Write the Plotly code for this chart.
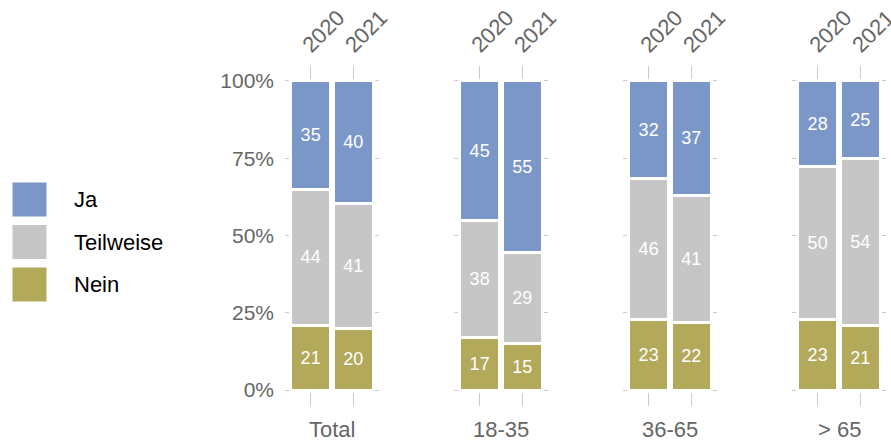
import plotly.graph_objects as go

# Survey shares (%) per age group and year
groups = ["Total", "18-35", "36-65", "> 65"]
years = ["2020", "2021"]
ja = [[35, 40], [45, 55], [32, 37], [28, 25]]
teilweise = [[44, 41], [38, 29], [46, 41], [50, 54]]
nein = [[21, 20], [17, 15], [23, 22], [23, 21]]

answers = ["Nein", "Teilweise", "Ja"]
colors = {"Ja": "#7b97c8", "Teilweise": "#c6c6c6", "Nein": "#b3a95a"}
values = {"Ja": ja, "Teilweise": teilweise, "Nein": nein}

W, H = 891, 443
FONT = "Liberation Sans, Arial, Helvetica, sans-serif"
TICK_GREY = "#cccccc"
TEXT_GREY = "#666666"

panel_left = [285, 454, 623, 792]
panel_w = 94
x_range = [-0.6, 1.6]
y_top, y_bot = 65.5, 405.5

fig = go.Figure()

for i, grp in enumerate(groups):
    suffix = "" if i == 0 else str(i + 1)
    for ans in answers:
        vals = values[ans][i]
        fig.add_trace(go.Bar(
            x=years, y=vals, name=ans,
            xaxis="x" + suffix, yaxis="y" + suffix,
            marker=dict(color=colors[ans], line=dict(color="white", width=3)),
            width=0.93,
            text=[str(v) for v in vals],
            textposition="inside", insidetextanchor="middle",
            textangle=0, constraintext="none",
            textfont=dict(color="white", size=18, family=FONT),
            showlegend=False, hoverinfo="skip",
        ))

    x0 = panel_left[i] / W
    x1 = (panel_left[i] + panel_w) / W
    # year axis on top, rotated labels; ticks mirrored to the bottom edge
    fig.layout["xaxis" + suffix] = dict(
        domain=[x0, x1], anchor="y" + suffix, type="category",
        categoryorder="array", categoryarray=years,
        range=x_range, side="top", automargin=False,
        ticks="inside", ticklen=13, tickcolor=TICK_GREY, tickwidth=1,
        mirror="ticks", showline=False, showgrid=False, zeroline=False,
        showticklabels=True, tickangle=-45,
        ticklabelstandoff=3, ticklabelshift=-7,
        tickfont=dict(size=22, color=TEXT_GREY, family=FONT),
    )
    fig.layout["yaxis" + suffix] = dict(
        domain=[1 - y_bot / H, 1 - y_top / H], anchor="x" + suffix,
        range=[-0.05, 1.05], automargin=False,
        tickvals=[0, 0.25, 0.5, 0.75, 1.0],
        ticktext=["0%", "25%", "50%", "75%", "100%"],
        showticklabels=(i == 0),
        ticks="inside", ticklen=4, tickcolor=TICK_GREY, tickwidth=1,
        mirror="ticks", showline=False, showgrid=False, zeroline=False,
        tickfont=dict(size=21, color=TEXT_GREY, family=FONT),
        ticklabelstandoff=10,
    )
    # group label below each panel
    fig.add_annotation(
        x=(panel_left[i] + panel_w / 2) / W, y=1 - 429 / H,
        xref="paper", yref="paper", text=grp, showarrow=False,
        xanchor="center", yanchor="middle",
        font=dict(size=22, color=TEXT_GREY, family=FONT),
    )

# legend drawn as swatches + labels
legend_items = ["Ja", "Teilweise", "Nein"]
for k, ans in enumerate(legend_items):
    top = 182 + k * 42.5
    fig.add_shape(
        type="rect", xref="paper", yref="paper",
        x0=12 / W, x1=47 / W, y0=1 - (top + 35) / H, y1=1 - top / H,
        fillcolor=colors[ans], line=dict(color="white", width=1),
    )
    fig.add_annotation(
        x=72 / W, y=1 - (top + 17.5) / H, xref="paper", yref="paper",
        text=ans, showarrow=False, xanchor="left", yanchor="middle",
        font=dict(size=22, color="black", family=FONT),
    )

fig.update_layout(
    width=W, height=H, barmode="stack", barnorm="fraction",
    margin=dict(l=0, r=0, t=0, b=0),
    paper_bgcolor="white", plot_bgcolor="white",
    showlegend=False,
)

fig.write_html("out.html")
